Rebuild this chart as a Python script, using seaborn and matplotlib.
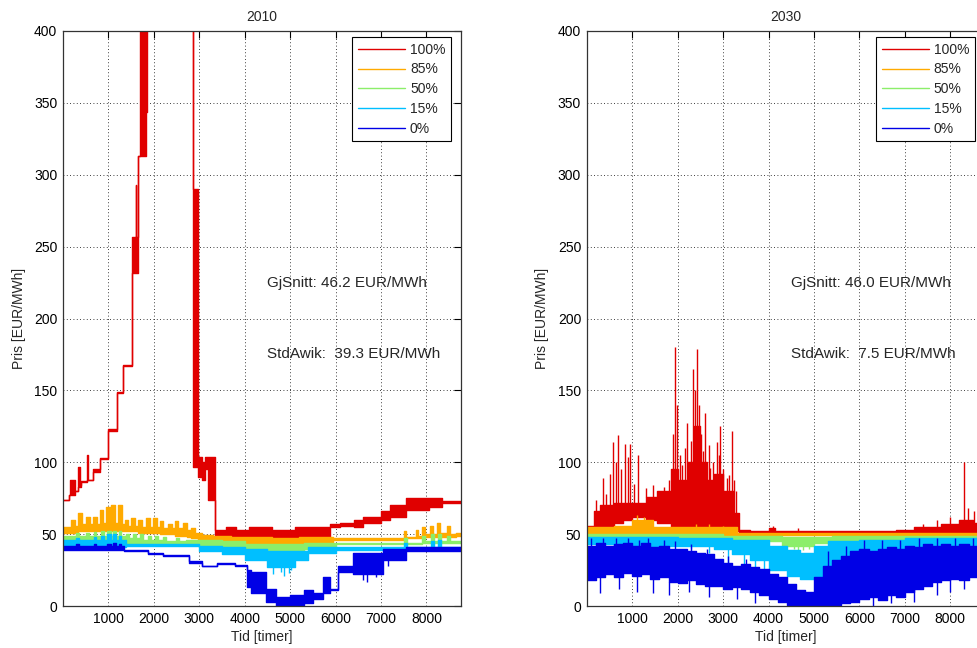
import numpy as np
import pandas as pd
import matplotlib
matplotlib.use("Agg")
import matplotlib.pyplot as plt
import seaborn as sns

# ---------------- data ----------------
# each entry: (start hour, lower envelope, upper envelope) in EUR/MWh, held until next start
hours_max = 8760
labels = ["100%", "85%", "50%", "15%", "0%"]
colors = ["#E00000", "#FFAA00", "#8CEE6A", "#00BFFF", "#0000E6"]

y2010_100 = [(0, 74, 74), (140, 77, 77), (160, 77, 88), (270, 80, 80), (340, 83, 97),
             (380, 83, 84), (410, 86, 87), (540, 88, 105), (565, 88, 88), (665, 93, 95),
             (818, 102, 103), (1000, 122, 123), (1184, 148, 149), (1330, 167, 168),
             (1514, 232, 257), (1600, 232, 293), (1620, 232, 257), (1660, 313, 313),
             (1700, 313, 500), (1830, 344, 500), (1850, 500, 500), (2860, 290, 500),
             (2875, 97, 290), (2975, 90, 104), (3060, 88, 100), (3120, 95, 104),
             (3190, 74, 104), (3350, 48, 53), (3600, 47, 55), (3800, 46, 53), (4100, 45, 55),
             (4600, 44, 53), (5100, 46, 55), (5500, 47, 55), (5880, 55, 57), (6100, 56, 58),
             (6400, 55, 60), (6600, 58, 62), (7000, 60, 66), (7200, 62, 70), (7550, 67, 75),
             (8050, 69, 75), (8350, 72, 73), (8760, 72, 73)]
y2010_85 = [(0, 51, 55), (190, 51, 60), (270, 51, 56), (340, 52, 64.5), (420, 52, 57),
            (520, 52, 62), (600, 52, 57), (670, 52, 62), (750, 52, 57), (815, 52, 67),
            (895, 52, 58), (960, 52, 69), (1040, 52, 58), (1060, 52, 70), (1140, 52, 58),
            (1215, 52, 70), (1300, 52, 57), (1365, 52, 60), (1445, 52, 56), (1510, 52, 61),
            (1590, 52, 56), (1655, 51, 60), (1740, 51, 55), (1840, 51, 61), (1920, 51, 55),
            (1985, 51, 61), (2070, 51, 55), (2135, 50, 59), (2215, 50, 54), (2315, 50, 57),
            (2395, 50, 54), (2460, 49, 59), (2545, 49, 54), (2645, 49, 57.5), (2725, 48, 53),
            (2830, 47, 54), (2910, 47, 51), (2980, 46, 51), (3060, 45, 49.5), (3300, 45, 49),
            (3700, 44, 48), (4100, 43, 48), (4600, 42, 47), (5200, 44, 48), (5950, 46, 47),
            (7500, 47, 52), (7560, 47, 48), (7760, 47, 53), (7820, 47, 49), (7900, 47, 55),
            (7960, 48, 50), (8080, 48, 56), (8140, 48, 50), (8230, 48, 58), (8290, 48, 51),
            (8450, 48, 56), (8510, 48, 50), (8640, 49, 51), (8760, 49, 51)]
y2010_50 = [(0, 44, 49), (300, 44, 51), (360, 44, 49), (520, 44, 51), (580, 44, 49),
            (680, 44, 51.5), (740, 44, 49), (830, 44, 52), (900, 44, 49), (980, 44, 52),
            (1050, 44, 49), (1100, 44, 52), (1160, 44, 49), (1230, 44, 52), (1290, 44, 49),
            (1400, 44, 50), (1460, 44, 47), (1540, 44, 50), (1600, 44, 47), (1700, 44, 50),
            (1760, 44, 46), (1880, 44, 49), (1940, 44, 46), (2030, 44, 49), (2090, 44, 46),
            (2200, 43, 48), (2260, 43, 45), (2500, 43, 47), (2560, 43, 45), (2700, 43, 46),
            (3000, 41, 46), (3500, 40, 45), (4000, 39, 43), (4300, 38, 43), (5300, 40, 44),
            (6000, 43, 44), (7500, 43, 47), (7580, 43, 44), (7900, 44, 49), (7960, 44, 45),
            (8100, 44, 50), (8160, 44, 45), (8250, 44, 50), (8310, 44, 45), (8450, 44, 49),
            (8510, 44, 45), (8760, 44, 45)]
y2010_15 = [(0, 41, 46), (300, 41, 47), (360, 41, 46), (680, 41, 48), (740, 41, 46),
            (830, 41, 49), (900, 41, 46), (980, 41, 50), (1050, 41, 46), (1100, 41, 50),
            (1160, 41, 46), (1230, 41, 49), (1290, 41, 46), (1400, 42, 43), (3000, 38, 42),
            (3500, 36, 41), (4000, 32, 40), (4500, 27, 38), (5100, 32, 38), (5400, 37, 41),
            (6000, 39, 41), (7500, 40, 44), (7580, 40, 41), (8100, 40, 45), (8160, 40, 41),
            (8250, 40, 46), (8310, 40, 41), (8760, 40, 41)]
y2010_0 = [(0, 39, 42), (300, 39, 43), (360, 39, 42), (680, 39, 43), (740, 39, 42),
           (980, 39, 43), (1050, 39, 42), (1100, 39, 44), (1160, 39, 42), (1230, 39, 43),
           (1290, 39, 42), (1350, 38, 39), (1880, 36, 37), (2200, 35, 35.5), (2770, 30, 31),
           (3060, 27.5, 28), (3400, 29.5, 30), (3780, 28, 28.5), (4050, 13, 25), (4150, 9, 24),
           (4480, 3, 12), (4700, 0, 6), (5000, 1, 8), (5300, 2, 11), (5500, 5, 9),
           (5720, 9, 20), (5870, 11, 11.5), (6050, 24, 28), (6380, 22, 37), (7050, 32, 40),
           (7560, 38, 41), (8760, 38, 41)]
# isolated spikes (hour, value): up = above upper envelope, down = below lower envelope
y2010_spikes_up = [[], [], [], [], []]
y2010_spikes_down = [[], [], [],
                     [(4620, 22), (4800, 24), (4870, 21), (4980, 23), (5030, 25)],
                     [(6600, 18), (6700, 17), (6900, 20), (7150, 28)]]

y2030_100 = [(0, 52, 56), (150, 52, 66), (300, 53, 70), (600, 58, 72), (800, 60, 72),
             (1000, 62, 72), (1300, 60, 76), (1550, 58, 80), (1850, 55, 95), (2000, 53, 88),
             (2200, 53, 100), (2350, 53, 125), (2500, 53, 100), (2650, 53, 88), (2800, 53, 92),
             (3000, 53, 80), (3250, 52, 65), (3350, 50, 53), (3600, 50, 52), (4000, 50, 54),
             (4150, 50, 52), (6800, 50, 53), (7200, 50, 55), (7800, 51, 57), (8200, 51, 60),
             (8500, 51, 58), (8760, 51, 58)]
y2030_85 = [(0, 49, 55), (600, 49, 56), (1000, 49, 60), (1450, 49, 55), (2000, 49, 55),
            (3300, 49.5, 51), (8760, 49.5, 51)]
y2030_50 = [(0, 47, 50), (3000, 46.5, 49), (4000, 45, 49), (4300, 42, 48), (5000, 44, 48),
            (5400, 46, 49), (8760, 46, 49)]
y2030_15 = [(0, 43, 48), (1000, 42, 48), (2000, 42, 47), (2800, 40, 47), (3200, 36, 46),
            (3600, 32, 46), (4000, 25, 42), (4400, 21, 39), (4700, 19, 37), (5000, 20, 42),
            (5300, 27, 45), (6000, 29, 46), (7000, 35, 47), (8760, 35, 47)]
y2030_0 = [(0, 18, 42), (200, 20, 44), (400, 22, 42), (600, 20, 43), (800, 23, 44),
           (1000, 21, 42), (1200, 22, 44), (1400, 19, 41), (1600, 20, 42), (1800, 17, 40),
           (2000, 16, 40), (2200, 18, 38), (2400, 15, 37), (2600, 14, 36), (2800, 14, 33),
           (3000, 12, 30), (3200, 13, 28), (3400, 12, 29), (3600, 10, 27), (3800, 8, 26),
           (4000, 5, 22), (4200, 3, 20), (4400, 1, 15), (4600, 0, 11), (4800, 0, 10),
           (5000, 0, 20), (5200, 0, 28), (5400, 1, 32), (5600, 2, 35), (5800, 3, 38),
           (6000, 5, 40), (6200, 6, 38), (6400, 4, 40), (6600, 8, 41), (6800, 6, 40),
           (7000, 10, 42), (7200, 12, 41), (7400, 14, 43), (7600, 17, 42), (7800, 18, 43),
           (8000, 19, 42), (8200, 18, 43), (8400, 20, 42), (8600, 18, 43), (8760, 18, 43)]
y2030_spikes_up = [[(200, 74), (365, 89), (430, 78), (512, 92), (585, 114), (640, 100),
                    (695, 119), (760, 95), (842, 113), (900, 104), (952, 113), (1050, 85),
                    (1135, 105), (1300, 82), (1450, 84), (1700, 83), (1800, 88), (1900, 120),
                    (1941, 180), (1990, 140), (2050, 105), (2100, 98), (2160, 110), (2212, 127),
                    (2290, 115), (2344, 165), (2380, 150), (2418, 179), (2460, 140), (2520, 120),
                    (2560, 108), (2600, 134), (2680, 112), (2720, 96), (2770, 100), (2857, 114),
                    (2900, 105), (2940, 125), (3000, 95), (3077, 89), (3140, 91), (3187, 122),
                    (3230, 88), (3280, 80), (4100, 56), (4650, 54), (7400, 57), (7700, 60),
                    (8000, 62), (8300, 100), (8380, 68), (8530, 66), (8700, 62)],
                   [(1100, 63), (1250, 62), (2400, 57), (2700, 57), (3000, 56)],
                   [], [],
                   [(100, 47), (350, 47), (650, 47), (900, 47), (1150, 46), (1350, 47),
                    (1700, 46), (1950, 45), (2300, 43), (2650, 40), (3100, 35), (3500, 33),
                    (5300, 38), (5700, 42), (6100, 46), (6500, 46), (6900, 46), (7300, 47),
                    (7700, 47), (8100, 47), (8500, 47)]]
y2030_spikes_down = [[], [],
                     [(4550, 40), (4650, 38), (4750, 39), (4900, 40)],
                     [(600, 36), (1500, 38), (2300, 40), (2700, 37), (3100, 30), (3450, 27),
                      (3700, 25), (3900, 22), (5200, 17), (5500, 22), (5800, 24), (6200, 23),
                      (6600, 25), (7100, 26), (7500, 24), (8000, 28), (8400, 26)],
                     [(300, 9), (700, 12), (1100, 10), (1450, 9), (1800, 8), (2250, 10),
                      (2700, 6), (3300, 5), (3700, 2), (6300, 0), (6700, 2), (7200, 3),
                      (7700, 8), (8000, 10), (8300, 12), (8600, 10)]]

panels = [
    ("2010", [y2010_100, y2010_85, y2010_50, y2010_15, y2010_0], y2010_spikes_up, y2010_spikes_down,
     "GjSnitt: 46.2 EUR/MWh", "StdAwik:  39.3 EUR/MWh"),
    ("2030", [y2030_100, y2030_85, y2030_50, y2030_15, y2030_0], y2030_spikes_up, y2030_spikes_down,
     "GjSnitt: 46.0 EUR/MWh", "StdAwik:  7.5 EUR/MWh"),
]
xticks = [1000, 2000, 3000, 4000, 5000, 6000, 7000, 8000]
yticks = [0, 50, 100, 150, 200, 250, 300, 350, 400]

# ---------------- styling ----------------
sns.set_style("white")
plt.rcParams["font.family"] = ["Liberation Sans", "DejaVu Sans"]
plt.rcParams["font.size"] = 10

fig = plt.figure(figsize=(9.78, 6.48), dpi=100)
W, H = 978.0, 648.0
ax_w, ax_h = 398.2 / W, 575.0 / H
ax_b = 42.0 / H
axes = [fig.add_axes([62.8 / W, ax_b, ax_w, ax_h]),
        fig.add_axes([586.7 / W, ax_b, ax_w, ax_h])]


def draw_series(ax, triples, color, label, z, up, down):
    df = pd.DataFrame(triples, columns=["hour", "lo", "hi"])
    ax.fill_between(df["hour"], df["lo"], df["hi"], step="post", color=color,
                    lw=0, zorder=z)
    sns.lineplot(data=df, x="hour", y="hi", ax=ax, color=color, lw=1.0,
                 drawstyle="steps-post", estimator=None, legend=False,
                 label=label, zorder=z + 0.001)
    sns.lineplot(data=df, x="hour", y="lo", ax=ax, color=color, lw=1.0,
                 drawstyle="steps-post", estimator=None, legend=False,
                 label="_nolegend_", zorder=z + 0.001)
    hv = df["hour"].to_numpy()
    if up:
        h = np.array([s[0] for s in up]); v = np.array([s[1] for s in up])
        idx = np.searchsorted(hv, h, side="right") - 1
        ax.vlines(h, df["hi"].to_numpy()[idx], v, color=color, lw=1.0, zorder=z + 0.002)
    if down:
        h = np.array([s[0] for s in down]); v = np.array([s[1] for s in down])
        idx = np.searchsorted(hv, h, side="right") - 1
        ax.vlines(h, v, df["lo"].to_numpy()[idx], color=color, lw=1.0, zorder=z + 0.002)


for ax, (title, series, ups, downs, t1, t2) in zip(axes, panels):
    for i, (tr, col, lab) in enumerate(zip(series, colors, labels)):
        draw_series(ax, tr, col, lab, 2 + i * 0.01, ups[i], downs[i])
    ax.set_xlim(0, hours_max)
    ax.set_ylim(0, 400)
    ax.set_xticks(xticks)
    ax.set_yticks(yticks)
    ax.set_axisbelow(True)
    ax.grid(True, color="k", linestyle=(0, (1, 3)), lw=0.6)
    ax.tick_params(direction="in", top=True, right=True, length=5, width=0.8,
                   labelsize=10, pad=4, colors="k")
    for sp in ax.spines.values():
        sp.set_color("#333333")
        sp.set_linewidth(0.9)
        sp.set_visible(True)
    ax.set_title(title, fontsize=10, pad=7)
    ax.set_xlabel("Tid [timer]", fontsize=10, labelpad=3)
    ax.set_ylabel("Pris [EUR/MWh]", fontsize=10, labelpad=6)
    ax.text(4500, 225, t1, fontsize=11, ha="left", va="center")
    ax.text(4500, 175, t2, fontsize=11, ha="left", va="center")
    handles, labs = ax.get_legend_handles_labels()
    leg = ax.legend(handles, labs, loc="upper right",
                    bbox_to_anchor=(1 - 10 / 398.2, 1 - 6 / 575.0), borderaxespad=0,
                    fancybox=False, edgecolor="k", framealpha=1, fontsize=10,
                    handlelength=3.4, handletextpad=0.36, borderpad=0.4, labelspacing=0.42)
    leg.get_frame().set_linewidth(0.8)
    for lh in leg.get_lines():
        lh.set_linewidth(1.0)

fig.savefig("out.png", dpi=100)
